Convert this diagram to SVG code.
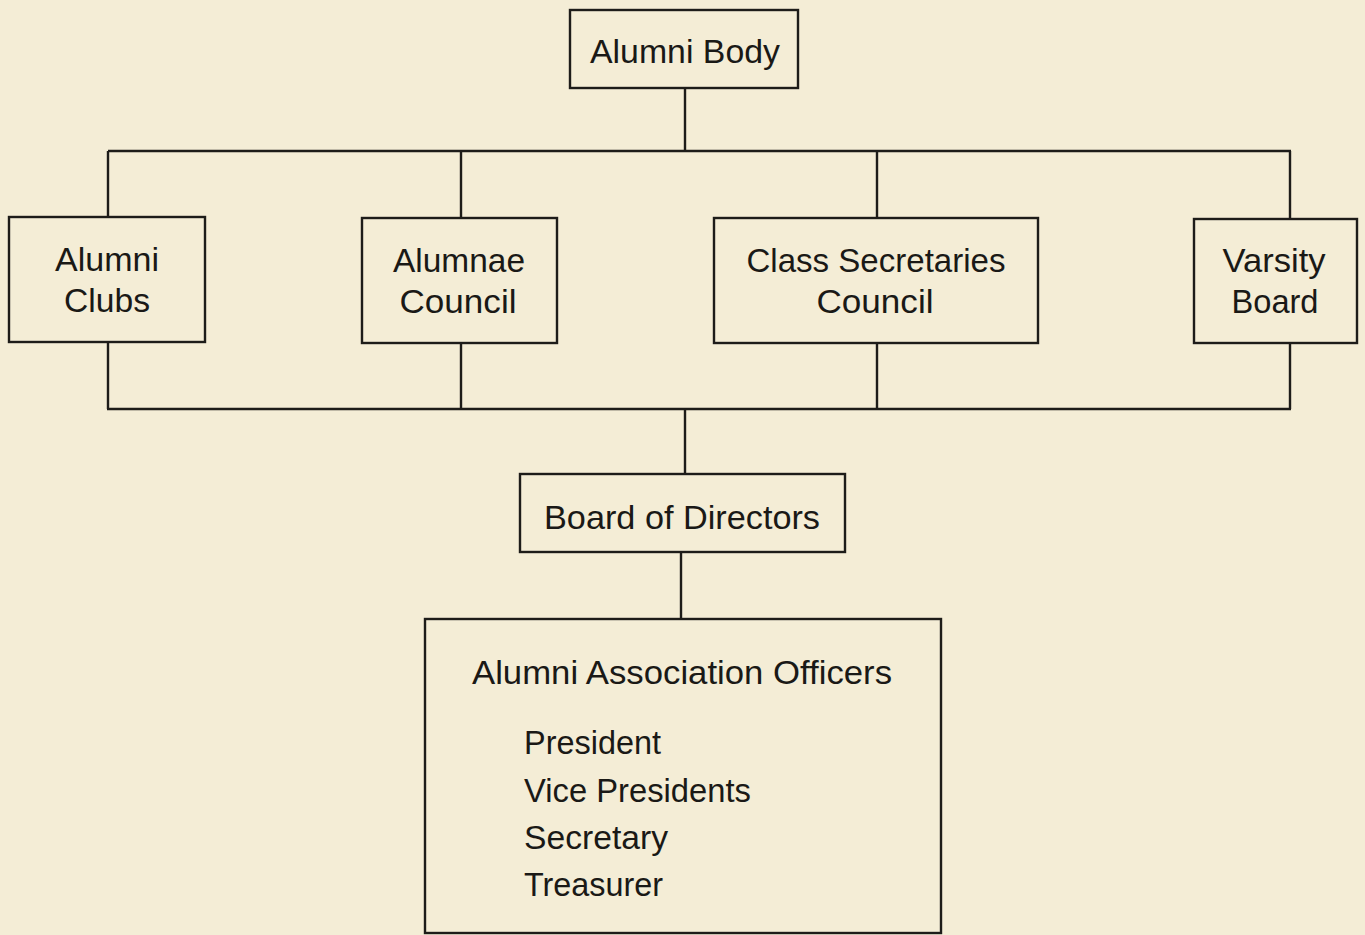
<svg xmlns="http://www.w3.org/2000/svg" width="1365" height="935" viewBox="0 0 1365 935">
<style>
.box{fill:none;stroke:#1d1c19;stroke-width:2.4}
.ln{fill:none;stroke:#1d1c19;stroke-width:2.4}
.t{font-family:"Liberation Sans",Arial,sans-serif;font-size:33px;fill:#1a1916;text-anchor:middle}
.l{font-family:"Liberation Sans",Arial,sans-serif;font-size:33px;fill:#1a1916}
</style>
<rect width="1365" height="935" fill="#f4edd6"/>
<g id="connectors">
<path class="ln" d="M685 88V151M108 151H1291M108 151V217M461 151V218M877 151V218M1290 151V219"/>
<path class="ln" d="M108 342V409M461 343V409M877 343V409M1290 343V409M107 409H1291M685 409V474"/>
<path class="ln" d="M681 552V619"/>
</g>
<g id="alumni-body">
<rect class="box" x="570" y="10" width="228" height="78"/>
<text class="t" x="685" y="63" textLength="190" lengthAdjust="spacingAndGlyphs">Alumni Body</text>
</g>
<g id="alumni-clubs">
<rect class="box" x="9" y="217" width="196" height="125"/>
<text class="t" x="107" y="271" textLength="104" lengthAdjust="spacingAndGlyphs">Alumni</text>
<text class="t" x="107" y="312" textLength="86" lengthAdjust="spacingAndGlyphs">Clubs</text>
</g>
<g id="alumnae-council">
<rect class="box" x="362" y="218" width="195" height="125"/>
<text class="t" x="459" y="272" textLength="132" lengthAdjust="spacingAndGlyphs">Alumnae</text>
<text class="t" x="458" y="313" textLength="117" lengthAdjust="spacingAndGlyphs">Council</text>
</g>
<g id="class-secretaries-council">
<rect class="box" x="714" y="218" width="324" height="125"/>
<text class="t" x="876" y="272" textLength="259" lengthAdjust="spacingAndGlyphs">Class Secretaries</text>
<text class="t" x="875" y="313" textLength="117" lengthAdjust="spacingAndGlyphs">Council</text>
</g>
<g id="varsity-board">
<rect class="box" x="1194" y="219" width="163" height="124"/>
<text class="t" x="1274" y="272" textLength="103" lengthAdjust="spacingAndGlyphs">Varsity</text>
<text class="t" x="1275" y="313" textLength="87" lengthAdjust="spacingAndGlyphs">Board</text>
</g>
<g id="board-of-directors">
<rect class="box" x="520" y="474" width="325" height="78"/>
<text class="t" x="682" y="529" textLength="276" lengthAdjust="spacingAndGlyphs">Board of Directors</text>
</g>
<g id="officers">
<rect class="box" x="425" y="619" width="516" height="314"/>
<text class="t" x="682" y="684" textLength="420" lengthAdjust="spacingAndGlyphs">Alumni Association Officers</text>
<text class="l" x="524" y="754" textLength="137" lengthAdjust="spacingAndGlyphs">President</text>
<text class="l" x="524" y="802" textLength="227" lengthAdjust="spacingAndGlyphs">Vice Presidents</text>
<text class="l" x="524" y="849" textLength="144" lengthAdjust="spacingAndGlyphs">Secretary</text>
<text class="l" x="524" y="896" textLength="139" lengthAdjust="spacingAndGlyphs">Treasurer</text>
</g>
</svg>
